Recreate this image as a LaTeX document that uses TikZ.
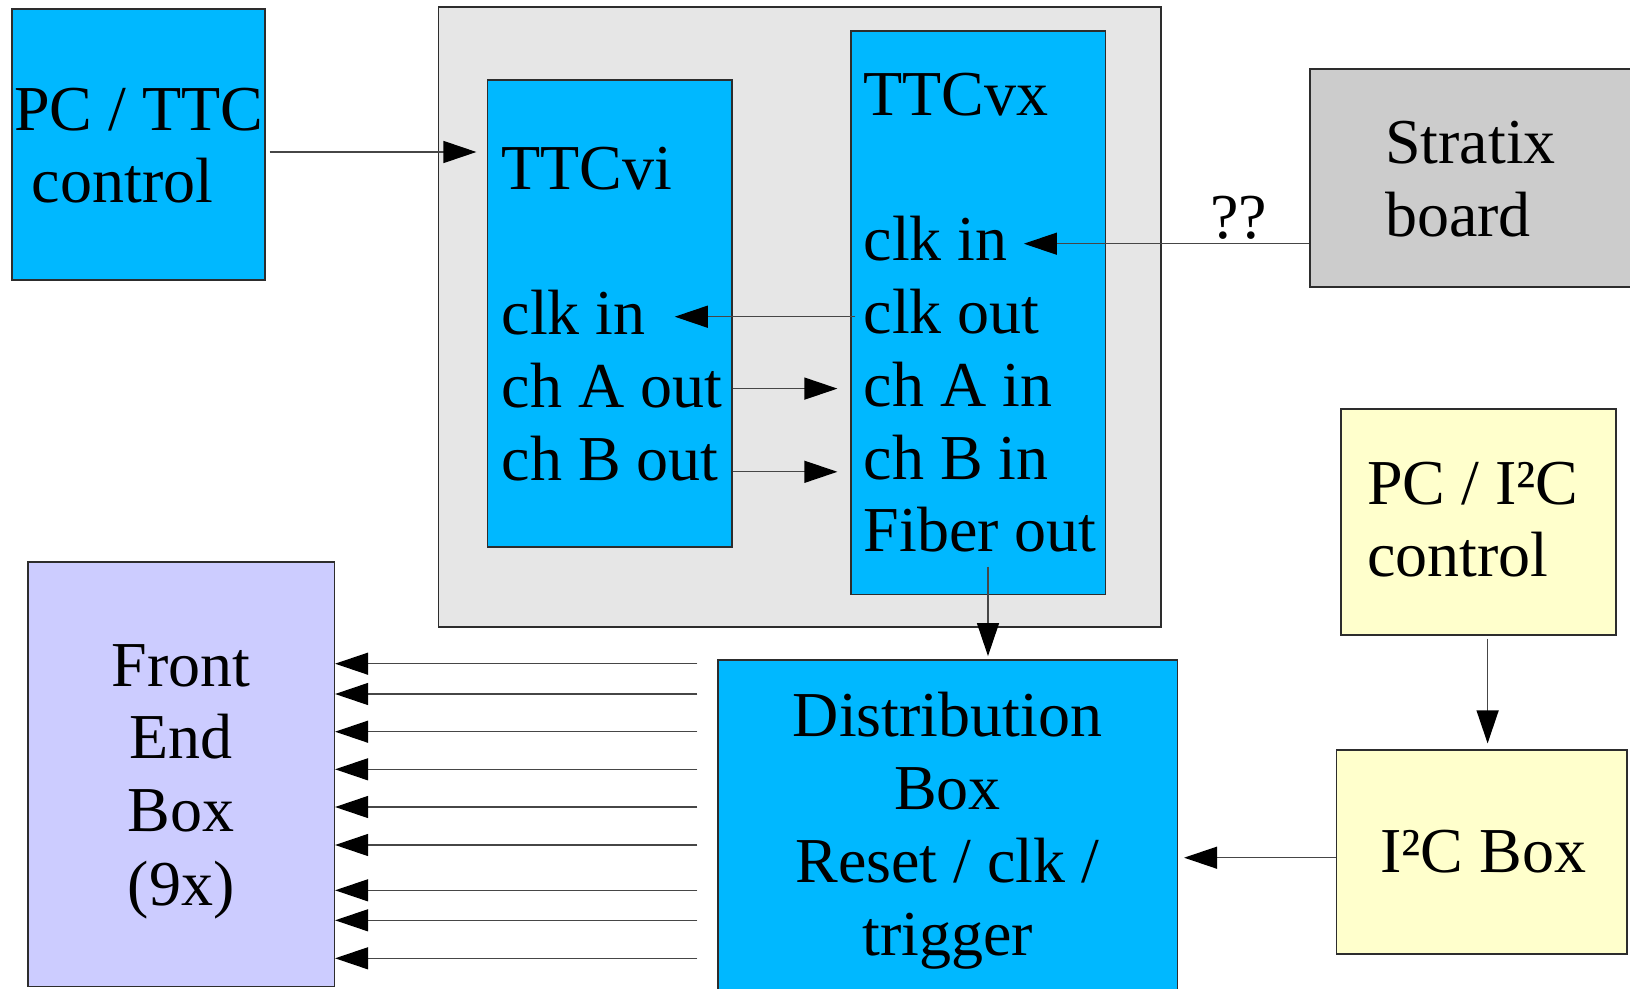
\documentclass[tikz,border=0pt]{standalone}
\usepackage{fontspec}
\setmainfont{Liberation Serif}
\usetikzlibrary{arrows.meta,fit}
\definecolor{boxblue}{RGB}{0,184,255}
\definecolor{groupgray}{RGB}{230,230,230}
\definecolor{stratgray}{RGB}{204,204,204}
\definecolor{paleyellow}{RGB}{255,255,204}
\definecolor{lavender}{RGB}{204,204,255}
\definecolor{edgecol}{RGB}{45,45,45}
\definecolor{linecol}{RGB}{70,70,70}
\newcommand\diafont{\fontsize{64}{73}\selectfont}
\begin{document}
\begin{tikzpicture}[x=1pt,y=-1pt,
  box/.style={draw=edgecol, line width=1.2pt, inner sep=0pt},
  txt/.style={anchor=base west, inner sep=0pt, font=\diafont},
  ctxt/.style={anchor=base, inner sep=0pt, font=\diafont},
  arr/.style={draw=linecol, line width=1.3pt, -{Triangle[length=33pt,width=22pt,color=black,fill=black]}}]
\useasboundingbox (0,0) rectangle (1630,988);
\fill[white] (0,0) rectangle (1630,988);

% boxes
\node[box, fill=boxblue, fit={(12,9) (265,280)}] (pcttc) {};
\node[box, fill=groupgray, fit={(438.5,7) (1161,627)}] (ttcgroup) {};
\node[box, fill=boxblue, fit={(487.5,80) (732,547)}] (ttcvi) {};
\node[box, fill=boxblue, fit={(851,31) (1105.5,594.5)}] (ttcvx) {};
\node[box, fill=stratgray, fit={(1310,69) (1645,287)}] (stratix) {};
\node[box, fill=paleyellow, fit={(1341,409) (1616,635)}] (pci2c) {};
\node[box, fill=paleyellow, fit={(1336.5,750) (1627,954)}] (i2cbox) {};
\node[box, fill=boxblue, fit={(718,660) (1177.5,1005)}] (dist) {};
\node[box, fill=lavender, fit={(28,562) (334.5,986.5)}] (feb) {};

% texts
\node[txt] (pcttc1) at (14,130) {PC / TTC};
\node[txt] (pcttc2) at (31.7,202.3) {control};

\node[txt] (vititle) at (501.4,189) {TTCvi};
\node[txt] (viclkin) at (501.4,334.7) {clk in};
\node[txt] (viaout) at (501.4,407.3) {ch A out};
\node[txt] (viboout) at (501.4,480) {ch B out};

\node[txt] (vxtitle) at (863.5,115.5) {TTCvx};
\node[txt] (vxclkin) at (863.5,260.4) {clk in};
\node[txt] (vxclkout) at (863.5,333.9) {clk out};
\node[txt] (vxain) at (863.5,406.5) {ch A in};
\node[txt] (vxbin) at (863.5,479) {ch B in};
\node[txt] (vxfiber) at (863.5,551.8) {Fiber out};

\node[txt] (strat1) at (1385,163.5) {Stratix};
\node[txt] (strat2) at (1385,236.5) {board};
\node[txt] (qq) at (1210,238) {??};

\node[txt] (pci2c1) at (1367,504) {PC / I²C};
\node[txt] (pci2c2) at (1367,576) {control};

\node[txt] (i2ct) at (1380,872) {I²C Box};

\node[ctxt] (dist1) at (947.5,736) {Distribution};
\node[ctxt] (dist2) at (947.5,809) {Box};
\node[ctxt] (dist3) at (947.5,882.7) {Reset / clk /};
\node[ctxt] (dist4) at (947.5,955) {trigger};

\node[ctxt] (feb1) at (181,686.7) {Front};
\node[ctxt] (feb2) at (181,758.5) {End};
\node[ctxt] (feb3) at (181,831.7) {Box};
\node[ctxt] (feb4) at (181,905) {(9x)};

% connectors
\draw[arr, shorten <=4pt, shorten >=10.5pt] (pcttc.east |- 0,152) -- (ttcvi.west |- 0,152);
\draw[arr, shorten <=-5pt, shorten >=29pt] (ttcvx.west |- 0,316.7) -- (viclkin.east |- 0,316.7);
\draw[arr, shorten >=13pt] (ttcvi.east |- 0,388.6) -- (ttcvx.west |- 0,388.6);
\draw[arr, shorten >=13pt] (ttcvi.east |- 0,471.8) -- (ttcvx.west |- 0,471.8);
\draw[arr, shorten >=16pt] (stratix.west |- 0,243.7) -- (vxclkin.east |- 0,243.7);
\coordinate (fibstart) at (988,566.5);
\draw[arr, shorten >=3.3pt] (fibstart) -- (fibstart |- dist.north);
\draw[arr, shorten <=3pt, shorten >=6pt] (pci2c.south -| 1487.6,0) -- (i2cbox.north -| 1487.6,0);
\draw[arr, shorten >=6pt] (i2cbox.west |- 0,857.7) -- (dist.east |- 0,857.7);
\foreach \yy in {663.7,694,731.7,769.3,807,845,890.3,920.3,958.3}
  \draw[arr, shorten <=20pt] (dist.west |- 0,\yy) -- (feb.east |- 0,\yy);
\end{tikzpicture}
\end{document}
